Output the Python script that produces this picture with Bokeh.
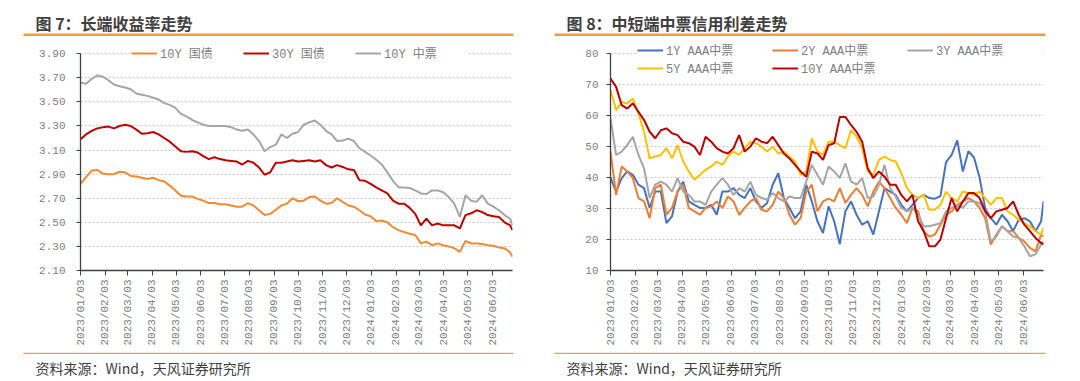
import math
import pandas as pd
from bokeh.plotting import figure
from bokeh.models import (Range1d, FixedTicker, DatetimeTickFormatter, PrintfTickFormatter,
                          Legend, LegendItem, Label, BoxAnnotation)
from bokeh.layouts import row, column
from bokeh.embed import file_html
from bokeh.resources import INLINE

# ---------------- data ----------------
dates = list(pd.date_range("2023-01-03", periods=78, freq="7D")) + [pd.Timestamp("2024-06-28")]

tick_labels = ["2023/01/03", "2023/02/03", "2023/03/03", "2023/04/03", "2023/05/03", "2023/06/03",
               "2023/07/03", "2023/08/03", "2023/09/03", "2023/10/03", "2023/11/03", "2023/12/03",
               "2024/01/03", "2024/02/03", "2024/03/03", "2024/04/03", "2024/05/03", "2024/06/03"]

titles = ["图 7：长端收益率走势", "图 8：中短端中票信用利差走势"]
source_text = "资料来源：Wind，天风证券研究所"

# Figure 7: long-end yields (%)
gov10 = [2.82, 2.875, 2.93, 2.935, 2.905, 2.90, 2.90, 2.92, 2.915, 2.885,
         2.88, 2.87, 2.86, 2.87, 2.85, 2.84, 2.805, 2.765, 2.72, 2.715,
         2.715, 2.695, 2.68, 2.66, 2.66, 2.65, 2.65, 2.64, 2.63, 2.63,
         2.66, 2.64, 2.60, 2.56, 2.57, 2.605, 2.64, 2.655, 2.70, 2.675,
         2.68, 2.71, 2.715, 2.68, 2.655, 2.66, 2.70, 2.67, 2.64, 2.63,
         2.60, 2.565, 2.55, 2.51, 2.515, 2.50, 2.46, 2.435, 2.42, 2.405,
         2.395, 2.325, 2.34, 2.31, 2.325, 2.31, 2.30, 2.285, 2.255, 2.345,
         2.325, 2.325, 2.32, 2.31, 2.305, 2.29, 2.285, 2.25, 2.215]
gov30 = [3.19, 3.23, 3.26, 3.28, 3.29, 3.295, 3.28, 3.30, 3.31, 3.30,
         3.27, 3.235, 3.24, 3.25, 3.23, 3.20, 3.17, 3.13, 3.09, 3.085,
         3.09, 3.08, 3.05, 3.025, 3.04, 3.025, 3.015, 3.01, 3.005, 2.98,
         3.01, 2.995, 2.955, 2.895, 2.915, 2.995, 2.995, 3.005, 3.015, 3.005,
         3.01, 3.015, 3.005, 3.015, 2.975, 2.955, 2.975, 2.96, 2.94, 2.935,
         2.85, 2.845, 2.82, 2.79, 2.765, 2.74, 2.68, 2.655, 2.655, 2.62,
         2.57, 2.475, 2.53, 2.475, 2.49, 2.475, 2.475, 2.475, 2.45, 2.56,
         2.575, 2.60, 2.585, 2.56, 2.55, 2.545, 2.50, 2.475, 2.435]
mtn10 = [3.66, 3.65, 3.69, 3.72, 3.71, 3.68, 3.645, 3.63, 3.62, 3.605,
         3.57, 3.56, 3.55, 3.535, 3.52, 3.49, 3.475, 3.45, 3.40, 3.38,
         3.35, 3.33, 3.31, 3.30, 3.30, 3.30, 3.30, 3.29, 3.27, 3.26,
         3.27, 3.23, 3.175, 3.09, 3.125, 3.145, 3.23, 3.20, 3.235, 3.25,
         3.31, 3.33, 3.345, 3.31, 3.26, 3.23, 3.175, 3.18, 3.195, 3.175,
         3.115, 3.085, 3.055, 3.02, 2.98, 2.915, 2.845, 2.79, 2.79, 2.785,
         2.765, 2.74, 2.735, 2.765, 2.765, 2.75, 2.71, 2.655, 2.545, 2.725,
         2.68, 2.67, 2.725, 2.655, 2.63, 2.60, 2.56, 2.53, 2.475]
left_yticks = [2.10, 2.30, 2.50, 2.70, 2.90, 3.10, 3.30, 3.50, 3.70, 3.90]

# Figure 8: credit spreads of AAA MTNs (bp)
s1y = [40, 35.5, 39.8, 42, 40.9, 37.7, 36.6, 30.2, 35.5, 35.5,
       25.3, 27.5, 35.5, 38.7, 32.3, 31.2, 30.2, 30.2, 31.2, 28,
       35.5, 35.5, 36.6, 34.4, 33.4, 36.6, 32.3, 30.2, 31.8, 37.7,
       41.4, 33.4, 30.2, 26.9, 29.1, 37.7, 32.3, 25.9, 22.1, 30.7,
       25.9, 18.5, 29.1, 32.3, 28, 24.8, 25.9, 21.6, 29.1, 36.6,
       35.5, 34.4, 31.2, 29.1, 31.2, 33.4, 34.4, 33.4, 33.2, 34,
       45, 47.3, 52, 42, 48.5, 46.5, 40, 30, 26.9, 24.8,
       28, 25.9, 22.7, 26.4, 26.9, 25.9, 22.7, 25.9, 32.3]
s2y = [48.4, 34.4, 43.6, 42, 39.8, 33.4, 32.3, 26.9, 36.6, 37.7,
       28, 30.2, 35.5, 37.7, 30.2, 29.1, 28, 30.2, 30.7, 32.3,
       30.2, 33.9, 32.3, 28, 30.2, 32.3, 33.4, 29.6, 29.1, 31.2,
       35.5, 33.4, 28, 24.8, 26.9, 35.5, 37.7, 29.1, 32.3, 33.2,
       32.3, 36.6, 31.8, 34.4, 36.6, 34.4, 30.7, 35.5, 38.7, 36.6,
       33.4, 30.2, 28, 25.3, 30.2, 29.1, 22.7, 21, 21.6, 24.8,
       28, 29.1, 31.2, 32.3, 33.4, 32.3, 30.2, 26.9, 18.4, 21.6,
       24.3, 22.7, 22.7, 20.5, 19.4, 17.3, 16.2, 21.6, 21]
s3y = [59.1, 47.3, 48.4, 50.5, 53.2, 47.3, 43, 33.4, 37.7, 38.7,
       37.7, 35.5, 39.8, 35.5, 34.4, 32.3, 32.3, 31.2, 35.5, 37.7,
       39.8, 37.7, 34.4, 36.6, 35.5, 38.7, 34.4, 33.4, 32.9, 35,
       33.4, 32.3, 33.9, 33.4, 33.4, 38.7, 44.1, 40.9, 37.7, 43.6,
       42, 39.8, 44.6, 38.7, 37.7, 39.8, 33.4, 33.9, 37.7, 44.1,
       36.6, 33.9, 30.2, 29.1, 30.2, 28, 24.3, 24.3, 24.8, 25.3,
       29.1, 30.2, 31.2, 30.2, 32.3, 32.3, 31.8, 29.1, 19.4, 21,
       24.3, 22.7, 21, 20.5, 17.8, 14.6, 15.2, 18.4, 19.4]
s5y = [68.2, 61.8, 64.5, 63.9, 65.5, 60.7, 54.8, 46.2, 46.8, 47.3,
       49.5, 46.2, 50.5, 45.2, 42, 39.3, 40.9, 42.5, 43.6, 45.2,
       44.1, 46.8, 48.4, 47.3, 49.5, 51.6, 51.1, 50, 48.4, 50,
       47.8, 48.4, 46.8, 45.2, 40.9, 42, 52.7, 48.4, 47.3, 51.6,
       51.6, 50.5, 49.5, 55.3, 53.2, 49.5, 42, 40.9, 45.7, 46.8,
       45.7, 45.2, 41.4, 36.6, 34.4, 33.4, 34.4, 29.6, 29.6, 31.2,
       35.5, 33.4, 32.3, 35.5, 35, 34.4, 35.5, 33.4, 31.2, 33.4,
       33.4, 29.1, 28, 26.4, 25.3, 24.3, 22.7, 21.6, 23.8]
s10y = [72, 69.3, 63.4, 62.3, 64, 61.2, 58.6, 54.8, 52.7, 55.3,
        55.9, 54.3, 53.7, 51.6, 51.1, 50, 47.3, 53.2, 51.6, 49.5,
        48.4, 47.8, 49.5, 53.7, 48.4, 50, 52.7, 51.6, 51.1, 53.2,
        50.5, 47.8, 46.2, 44.1, 42, 40.3, 48.4, 47.8, 45.7, 50.5,
        51.1, 59.6, 59.6, 57, 54.8, 51.6, 43, 39.8, 42, 40.3,
        37.7, 37.7, 34.4, 32.3, 34.4, 25.9, 22.7, 17.8, 17.8, 20,
        26.9, 33.4, 29.1, 32.3, 35, 35, 33.4, 29.1, 26.9, 29.1,
        29.6, 30.2, 32.3, 28, 24.8, 22.7, 20.5, 18.9, 18.4]
right_yticks = [10, 20, 30, 40, 50, 60, 70, 80]

# ---------------- styling ----------------
MONO = "'Liberation Mono', 'Noto Sans CJK SC'"
CJK = "'Noto Sans CJK SC'"
ORANGE_RULE = "#F39A45"
TEXT_DARK = "#404040"
TICK_GRAY = "#808080"
TOTAL_W, PANEL_W = 1080, 540
HEAD_H, CHART_H, FOOT_H = 36, 312, 32

tick_ms = [pd.Timestamp(t.replace("/", "-")).value // 10**6 for t in tick_labels]


def strip(height):
    s = figure(width=TOTAL_W, height=height, x_range=Range1d(0, TOTAL_W), y_range=Range1d(height, 0),
               output_backend="svg", toolbar_location=None,
               x_axis_location=None, y_axis_location=None,
               min_border_left=0, min_border_right=0, min_border_top=0, min_border_bottom=0)
    s.outline_line_color = None
    s.xgrid.grid_line_color = None
    s.ygrid.grid_line_color = None
    s.background_fill_color = "white"
    s.border_fill_color = "white"
    return s


# header: titles and orange rules (x in page pixels)
head = strip(HEAD_H)
for title, tx, rl, rr in zip(titles, [35, 566], [23, 554], [513, 1045]):
    head.add_layout(Label(x=tx, y=22, text=title, text_font=CJK, text_font_style="bold",
                          text_font_size="16px", text_color=TEXT_DARK,
                          text_baseline="middle", text_align="left"))
    head.add_layout(BoxAnnotation(left=rl, right=rr, top=33, bottom=35.5,
                                  fill_color=ORANGE_RULE, fill_alpha=1, line_color=None))

# footer: thin rules and source notes
foot = strip(FOOT_H)
for tx, rl, rr in zip([35, 566], [23, 554], [513, 1045]):
    foot.add_layout(BoxAnnotation(left=rl, right=rr, top=4.2, bottom=5.4,
                                  fill_color=ORANGE_RULE, fill_alpha=1, line_color=None))
    foot.add_layout(Label(x=tx, y=19.5, text=source_text,
                          text_font=CJK, text_font_size="14px", text_color=TEXT_DARK,
                          text_baseline="middle", text_align="left"))


def chart(ylo, ytop_tick, ytop, yticks, yfmt, border_left, border_right, ystandoff):
    p = figure(width=PANEL_W, height=CHART_H, x_axis_type="datetime",
               x_range=Range1d(start=pd.Timestamp("2023-01-03"), end=pd.Timestamp("2024-06-28")),
               y_range=Range1d(ylo, ytop),
               output_backend="svg", toolbar_location=None,
               min_border_left=border_left, min_border_right=border_right,
               min_border_top=0, min_border_bottom=77)
    p.outline_line_color = None
    p.background_fill_color = "white"
    p.border_fill_color = "white"
    p.xgrid.grid_line_color = None
    p.ygrid.grid_line_color = "#c8c8c8"
    p.ygrid.grid_line_dash = "2 2"
    p.ygrid.grid_line_width = 1

    p.yaxis.ticker = FixedTicker(ticks=yticks)
    p.yaxis.formatter = PrintfTickFormatter(format=yfmt)
    p.yaxis.bounds = (ylo, ytop_tick)
    p.xaxis.ticker = FixedTicker(ticks=tick_ms)
    p.xaxis.formatter = DatetimeTickFormatter(days="%Y/%m/%d", months="%Y/%m/%d", years="%Y/%m/%d")
    p.xaxis.major_label_orientation = math.pi / 2
    for ax in (p.xaxis[0], p.yaxis[0]):
        ax.axis_line_color = "#404040"
        ax.axis_line_width = 1.3
        ax.major_tick_line_color = "#404040"
        ax.major_tick_in = 0
        ax.minor_tick_line_color = None
        ax.major_label_text_font = "Liberation Mono"
        ax.major_label_text_font_size = "11px"
        ax.major_label_text_color = TICK_GRAY
    p.xaxis.major_tick_out = 5
    p.xaxis.major_label_standoff = 4
    p.yaxis.major_tick_out = 4
    p.yaxis.major_label_standoff = ystandoff
    return p


def legend(items, loc, ncols, label_width, padding):
    return Legend(items=items, location=loc, orientation="horizontal", ncols=ncols,
                  glyph_width=26, glyph_height=18, label_height=18, label_width=label_width,
                  label_standoff=3, spacing=0, padding=padding, margin=0,
                  border_line_color=None, background_fill_color="white", background_fill_alpha=1,
                  label_text_font=MONO, label_text_font_size="12px", label_text_color=TICK_GRAY)


# ---------- left panel ----------
p1 = chart(2.10, 3.90, 4.043, left_yticks, "%.2f", 80, 28, 11)
r_a = p1.line(dates, gov10, line_color="#F28B30", line_width=2)
r_b = p1.line(dates, gov30, line_color="#C00000", line_width=2)
r_c = p1.line(dates, mtn10, line_color="#A5A5A5", line_width=2)
p1.add_layout(legend([LegendItem(label="10Y 国债", renderers=[r_a]),
                      LegendItem(label="30Y 国债", renderers=[r_b]),
                      LegendItem(label="10Y 中票", renderers=[r_c])],
                     (51, 208), 3, 83, 4))

# ---------- right panel ----------
p2 = chart(10, 80, 85.56, right_yticks, "%d", 70, 37, 8)
q1 = p2.line(dates, s1y, line_color="#4472C4", line_width=2)
q2 = p2.line(dates, s2y, line_color="#ED7D31", line_width=2)
q3 = p2.line(dates, s3y, line_color="#A5A5A5", line_width=2)
q5 = p2.line(dates, s5y, line_color="#FFC000", line_width=2)
q10 = p2.line(dates, s10y, line_color="#C00000", line_width=2)
p2.add_layout(legend([LegendItem(label="1Y AAA中票", renderers=[q1]),
                      LegendItem(label="2Y AAA中票", renderers=[q2]),
                      LegendItem(label="3Y AAA中票", renderers=[q3]),
                      LegendItem(label="5Y AAA中票", renderers=[q5]),
                      LegendItem(label="10Y AAA中票", renderers=[q10])],
                     (27, 193), 3, 106, 3))

layout = column(head, row(p1, p2), foot)
open("out.html", "w").write(file_html(layout, INLINE))
